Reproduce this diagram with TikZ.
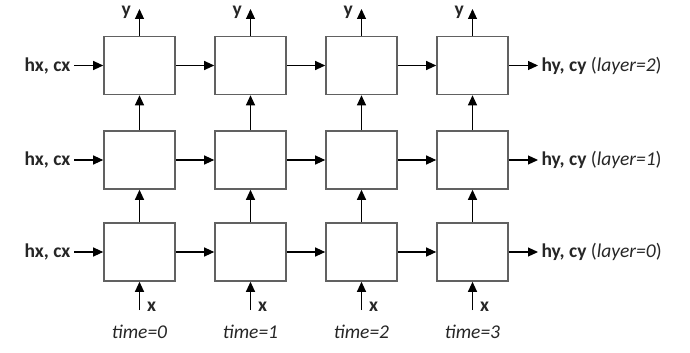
\documentclass[tikz,border=0pt]{standalone}
\usepackage{fontspec}
\setmainfont{Carlito}
\usetikzlibrary{arrows.meta}

\begin{document}
\begin{tikzpicture}[x=1pt,y=-1pt,
    cell/.style={draw=black!62, line width=1.6pt, minimum width=71pt, minimum height=58pt, inner sep=0pt},
    link/.style={-{Triangle[length=10pt,width=9pt]}, line width=1.1pt},
    lbl/.style={font=\fontsize{19.5}{23}\selectfont, text=black!85}]
    \useasboundingbox (0,0) rectangle (690,353);

    % cells: row 0 is the bottom layer, column \t is the time step
    \foreach \r/\yy in {0/252,1/160,2/65.5}
        \foreach \t in {0,1,2,3}
            \node[cell] (c\r\t) at ({139.5+111*\t},\yy) {};

    % initial states in, final states out
    \foreach \r/\yy in {0/252,1/160,2/65.5} {
        \node[lbl, anchor=east] (hin\r) at (74,\yy) {\textbf{hx, cx}};
        \node[lbl, anchor=west] (hout\r) at (538,\yy) {\textbf{hy, cy} (\textit{layer=\r})};
        \draw[link] (hin\r.east) -- (c\r0.west);
        \draw[link] (c\r3.east) -- (hout\r.west);
    }

    % recurrence along time
    \foreach \r in {0,1,2}
        \foreach \t/\n in {0/1,1/2,2/3}
            \draw[link] (c\r\t.east) -- (c\r\n.west);

    % stacking of layers
    \foreach \t in {0,1,2,3} {
        \draw[link] (c0\t.north) -- (c1\t.south);
        \draw[link] (c1\t.north) -- (c2\t.south);
    }

    % inputs x at the bottom, outputs y at the top
    \foreach \t in {0,1,2,3} {
        \coordinate (xin\t) at ({139.5+111*\t},310);
        \coordinate (yout\t) at ({139.5+111*\t},9);
        \draw[link] (xin\t) -- (c0\t.south);
        \draw[link] (c2\t.north) -- (yout\t);
        \node[lbl, font=\fontsize{19.5}{23}\selectfont\bfseries, anchor=base west, inner sep=0pt] (xl\t) at ({147+111*\t},311) {x};
        \node[lbl, font=\fontsize{19.5}{23}\selectfont\bfseries, anchor=base east, inner sep=0pt] (yl\t) at ({131+111*\t},16) {y};
        \node[lbl, font=\fontsize{19.5}{23}\selectfont\itshape, anchor=base] (time\t) at ({139.5+111*\t},338) {time=\t};
    }
\end{tikzpicture}
\end{document}
